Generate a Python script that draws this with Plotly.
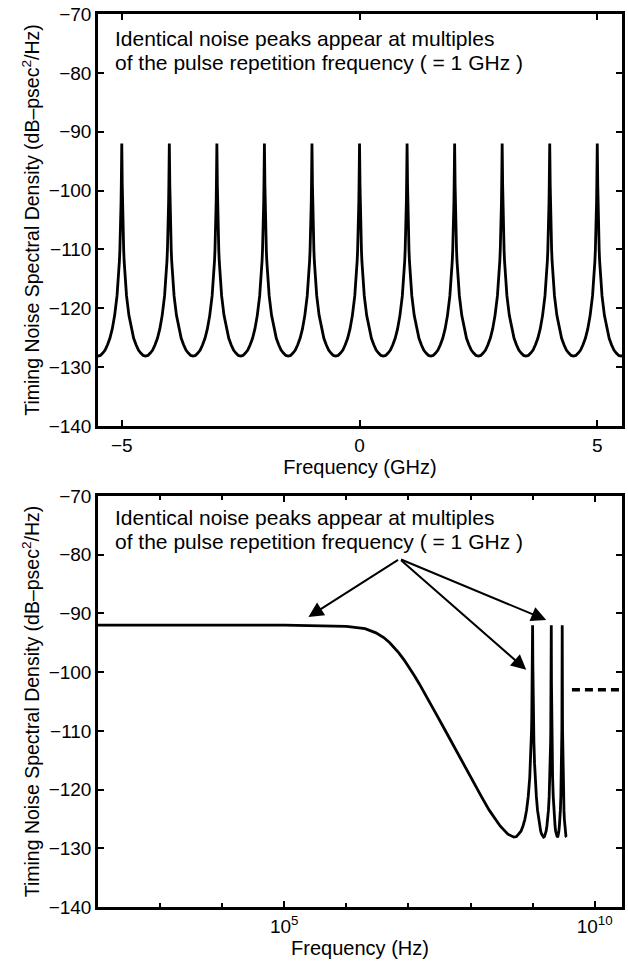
import math
import plotly.graph_objects as go

# ---------------- data ----------------
# One noise peak (top panel): offset from the peak centre (GHz) -> level (dB-psec^2/Hz)
peak_offset_ghz = [0, 0.0025, 0.005, 0.0075, 0.01, 0.015, 0.02, 0.03, 0.04, 0.05,
                   0.075, 0.1, 0.15, 0.2, 0.25, 0.3, 0.35, 0.4, 0.45, 0.5]
peak_level_db = [-92.0, -93.0, -95.0, -97.1, -99.0, -102.0, -104.3, -107.7, -110.1, -112.0,
                 -115.5, -117.9, -121.2, -123.5, -125.1, -126.2, -127.1, -127.6, -128.0, -128.1]
# peak centres: multiples of the 1 GHz repetition frequency (outer ones clipped by the axis)
peak_centers_ghz = [-6, -5, -4, -3, -2, -1, 0, 1, 2, 3, 4, 5, 6]

# Bottom panel: low-frequency part of the spectrum on a log axis
lowfreq_hz = [1e2, 1e3, 1e4, 1e5, 1e6, 1.5e6, 2e6, 3e6, 4e6, 5e6, 6e6, 7e6, 8.5e6,
              1e7, 1.25e7, 1.5e7, 2e7, 2.5e7, 3e7, 4e7, 5e7, 7e7, 1e8, 1.5e8, 2e8,
              3e8, 4e8, 5e8]
lowfreq_db = [-92.0, -92.0, -92.0, -92.0, -92.2, -92.4, -92.6, -93.3, -94.1, -95.0, -95.9,
              -96.7, -97.9, -99.0, -100.6, -102.0, -104.3, -106.1, -107.7, -110.1, -112.0,
              -114.9, -117.9, -121.2, -123.5, -126.2, -127.6, -128.1]
log_peak_centers_ghz = [1, 2, 3]

# dashed level on the right of the bottom panel
dashed_freq_hz = [4.3e9, 2.75e10]
dashed_level_db = -103.0

# arrows of the bottom panel: common tail and three tips (Hz, dB)
arrow_tail = (7.2e6, -80.7)
arrow_tips = [(2.45e5, -90.6), (1.66e9, -91.1), (7.9e8, -99.6)]

note_lines = ["Identical noise peaks appear at multiples",
              "of the pulse repetition frequency ( = 1 GHz )"]
y_title = "Timing Noise Spectral Density (dB–psec<sup>2</sup>/Hz)"
top_x_ticks = [-5, 0, 5]
log_x_major = [1e5, 1e10]
log_x_major_text = ["10<sup>5</sup>", "10<sup>10</sup>"]
log_x_minor = [1e2, 1e3, 1e4, 1e6, 1e7, 1e8, 1e9]
y_ticks = [-140, -130, -120, -110, -100, -90, -80, -70]

# ---------------- build curves from the read values ----------------
def one_peak(center):
    xs, ys = [], []
    for off, lv in zip(reversed(peak_offset_ghz[1:]), reversed(peak_level_db[1:])):
        xs.append(center - off); ys.append(lv)
    for off, lv in zip(peak_offset_ghz, peak_level_db):
        xs.append(center + off); ys.append(lv)
    return xs, ys

top_x, top_y = [], []
for c in peak_centers_ghz:
    xs, ys = one_peak(c)
    top_x += xs; top_y += ys

bot_x = list(lowfreq_hz)
bot_y = list(lowfreq_db)
for c in log_peak_centers_ghz:
    xs, ys = one_peak(c)
    bot_x += [v * 1e9 for v in xs]; bot_y += ys

FONT = "Liberation Sans, Arial, Helvetica, sans-serif"
fig = go.Figure()
fig.add_trace(go.Scatter(x=top_x, y=top_y, mode="lines", xaxis="x", yaxis="y",
                         line=dict(color="black", width=2.8), showlegend=False))
fig.add_trace(go.Scatter(x=bot_x, y=bot_y, mode="lines", xaxis="x2", yaxis="y2",
                         line=dict(color="black", width=2.8), showlegend=False))
fig.add_trace(go.Scatter(x=dashed_freq_hz, y=[dashed_level_db] * 2, mode="lines",
                         xaxis="x2", yaxis="y2",
                         line=dict(color="black", width=3.5, dash="8px,5px"), showlegend=False))

axis_common = dict(showline=True, linecolor="black", linewidth=2.5, mirror="ticks",
                   ticks="inside", ticklen=6, tickwidth=2, tickcolor="black",
                   showgrid=False, zeroline=False, automargin=False,
                   tickfont=dict(family=FONT, size=19, color="black"))

fig.update_layout(
    template="none",
    width=628, height=967,
    margin=dict(l=98, r=6, t=14, b=60, autoexpand=False),
    paper_bgcolor="white", plot_bgcolor="white",
    font=dict(family=FONT, color="black"),
    xaxis=dict(axis_common, domain=[0, 1], anchor="y", range=[-5.5, 5.52],
               tickvals=top_x_ticks, automargin=True,
               title=dict(text="Frequency (GHz)", font=dict(size=20), standoff=2)),
    yaxis=dict(axis_common, domain=[0.5386, 1], anchor="x", range=[-140, -70],
               tickvals=y_ticks,
               title=dict(text=y_title, font=dict(size=19.5), standoff=4)),
    xaxis2=dict(axis_common, domain=[0, 1], anchor="y2", type="log",
                range=[2, 10.44], tickvals=log_x_major, ticktext=log_x_major_text,
                automargin=True,
                minor=dict(tickvals=log_x_minor, ticks="inside", ticklen=4,
                           tickwidth=2, tickcolor="black", showgrid=False),
                title=dict(text="Frequency (Hz)", font=dict(size=20), standoff=4)),
    yaxis2=dict(axis_common, domain=[0, 0.4602], anchor="x2", range=[-140, -70],
                tickvals=y_ticks,
                title=dict(text=y_title, font=dict(size=19.5), standoff=4)),
)

annotations = []
for xr, yr, ys in [("x domain", "y domain", [0.9417, 0.8835]),
                   ("x2 domain", "y2 domain", [0.947, 0.890])]:
    for line, yy in zip(note_lines, ys):
        annotations.append(dict(xref=xr, yref=yr, x=0.028, y=yy, xanchor="left",
                                yanchor="middle", text=line, showarrow=False,
                                font=dict(family=FONT, size=21, color="black")))
for tx, ty in arrow_tips:
    annotations.append(dict(xref="x2", yref="y2", axref="x2", ayref="y2",
                            x=math.log10(tx), y=ty,
                            ax=math.log10(arrow_tail[0]), ay=arrow_tail[1],
                            text="", showarrow=True, arrowhead=2, arrowsize=1.5,
                            arrowwidth=2, arrowcolor="black", standoff=0))
fig.update_layout(annotations=annotations)

# remove the default 8 px page margin so the figure sits at the window origin
fig.write_html("out.html", config={"displayModeBar": False},
               post_script="document.body.style.margin='0';document.body.style.padding='0';")
